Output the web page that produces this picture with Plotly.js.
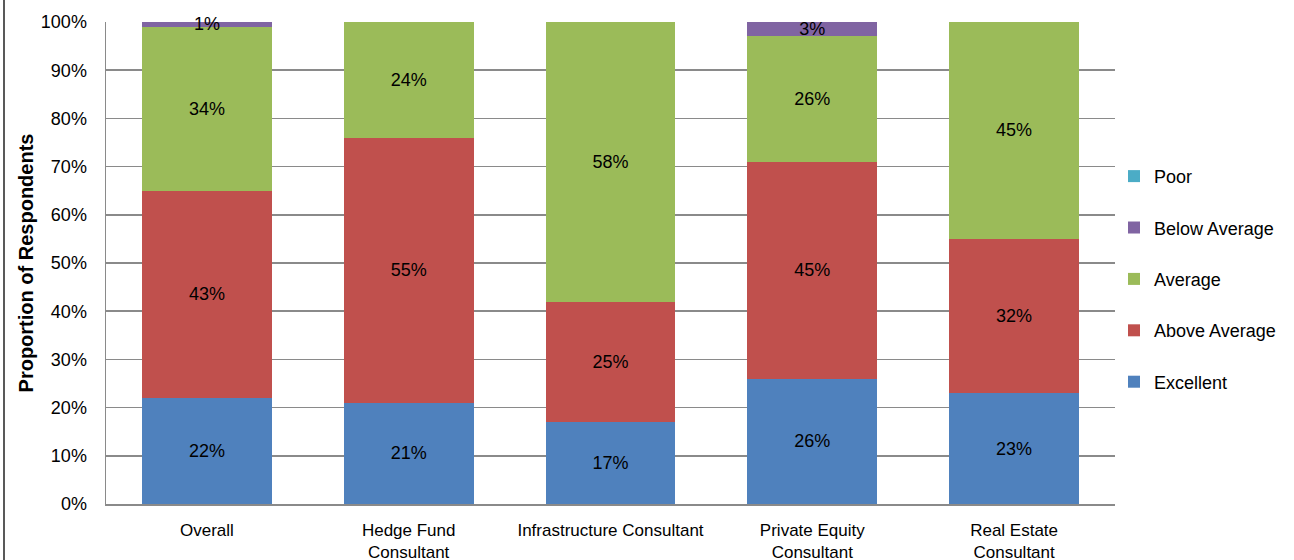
<!DOCTYPE html>
<html>
<head>
<meta charset="utf-8">
<script src="https://cdn.plot.ly/plotly-3.0.1.min.js"></script>
<style>
html,body{margin:0;padding:0;background:#fff;}
#chart{width:1294px;height:560px;}
</style>
</head>
<body>
<div id="chart"></div>
<script>
const categories = ["Overall", "Hedge Fund<br>Consultant", "Infrastructure Consultant", "Private Equity<br>Consultant", "Real Estate<br>Consultant"];
const seriesNames = ["Excellent", "Above Average", "Average", "Below Average", "Poor"];
const excellent = [22, 21, 17, 26, 23];
const aboveAverage = [43, 55, 25, 45, 32];
const average = [34, 24, 58, 26, 45];
const belowAverage = [1, 0, 0, 3, 0];
const poor = [0, 0, 0, 0, 0];
const colors = ["#4F81BD", "#C0504D", "#9BBB59", "#8064A2", "#4BACC6"];
const yTickVals = [0, 10, 20, 30, 40, 50, 60, 70, 80, 90, 100];
const yTickText = ["0%", "10%", "20%", "30%", "40%", "50%", "60%", "70%", "80%", "90%", "100%"];

const series = [excellent, aboveAverage, average, belowAverage, poor];
const FONT = "Liberation Sans, Arial, sans-serif";

const traces = series.map((vals, i) => ({
  type: "bar",
  name: seriesNames[i],
  legendgroup: "g" + i,
  legendrank: 100 - i,
  x: categories,
  y: vals,
  marker: {color: colors[i], line: {width: 0}},
  text: vals.map(v => v > 0 ? v + "%" : ""),
  textposition: "inside",
  insidetextanchor: "middle",
  constraintext: "none",
  textangle: 0,
  textfont: {family: FONT, size: 18, color: "#000"},
  hoverinfo: "x+y+name",
  cliponaxis: false
}));

const ml = 106, mt = 22, mr = 179, mb = 56;
const pw = 1294 - ml - mr, ph = 560 - mt - mb;

const layout = {
  width: 1294, height: 560,
  margin: {l: ml, r: mr, t: mt, b: mb, pad: 0},
  barmode: "stack",
  bargap: 0.356,
  paper_bgcolor: "#fff",
  plot_bgcolor: "#fff",
  font: {family: FONT, size: 18, color: "#000"},
  showlegend: true,
  legend: {
    x: (1114 - ml) / pw, xanchor: "left",
    y: 0.467, yanchor: "middle",
    traceorder: "grouped",
    tracegroupgap: 25,
    itemwidth: 30,
    font: {family: FONT, size: 18, color: "#000"},
    bgcolor: "rgba(0,0,0,0)"
  },
  xaxis: {
    automargin: false,
    showgrid: false,
    showline: true, linecolor: "#8a8a8a", linewidth: 1.5,
    ticks: "",
    ticklabelstandoff: 10,
    tickfont: {family: FONT, size: 17, color: "#000"},
    fixedrange: true
  },
  yaxis: {
    automargin: false,
    range: [0, 100],
    tickvals: yTickVals,
    ticktext: yTickText,
    showgrid: true, gridcolor: "#8a8a8a", gridwidth: 1.5,
    showline: true, linecolor: "#8a8a8a", linewidth: 1.5,
    zeroline: false,
    ticks: "",
    ticklabelstandoff: 14,
    tickfont: {family: FONT, size: 18, color: "#000"},
    title: {text: "<b>Proportion of Respondents</b>", font: {family: FONT, size: 20, color: "#000"}, standoff: 2},
    fixedrange: true
  },
  shapes: [{
    type: "line", xref: "paper", yref: "paper",
    x0: (4 - ml) / pw, x1: (4 - ml) / pw,
    y0: -(mb / ph), y1: (ph + mt) / ph,
    line: {color: "#222", width: 1.5}
  }]
};

Plotly.newPlot("chart", traces, layout, {displayModeBar: false, staticPlot: true});
</script>
</body>
</html>
